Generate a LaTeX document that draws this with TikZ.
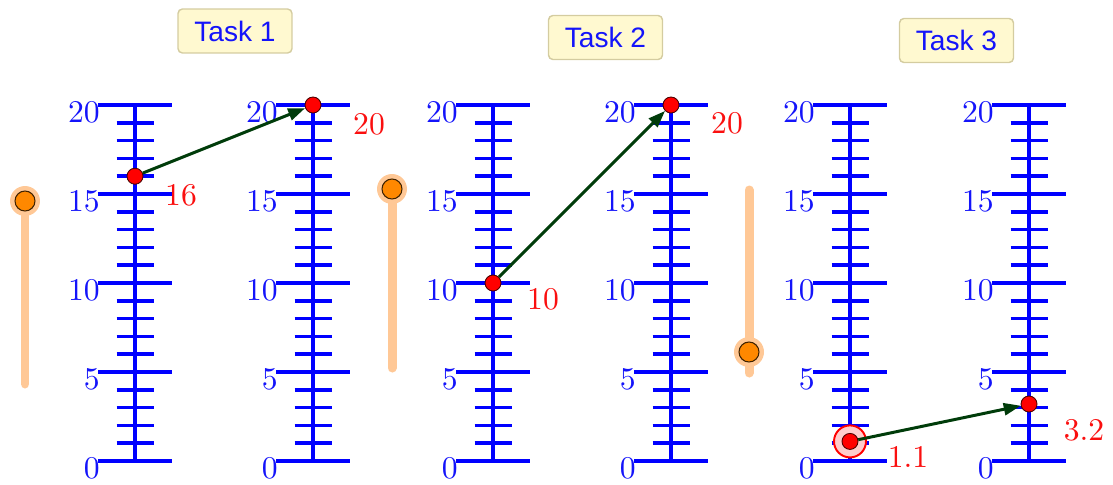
\documentclass[tikz,border=0pt]{standalone}
\usepackage{fontspec}
\newfontfamily\tasksf{Liberation Sans}
\newfontfamily\numfont{lmroman10-regular}[Extension=.otf]
\usetikzlibrary{arrows.meta}
\definecolor{nlblue}{RGB}{0,0,255}
\definecolor{numblue}{RGB}{20,20,250}
\definecolor{ptred}{RGB}{255,0,0}
\definecolor{valred}{RGB}{250,15,15}
\definecolor{vecgreen}{RGB}{0,60,10}
\definecolor{sldline}{RGB}{255,200,150}
\definecolor{sldknob}{RGB}{255,136,0}
\definecolor{taskfill}{RGB}{255,249,208}
\definecolor{taskdraw}{RGB}{212,204,160}
\tikzset{
  taskbox/.style={
    rectangle, rounded corners=2.5pt, draw=taskdraw, fill=taskfill,
    line width=0.8pt, minimum width=2.28cm, minimum height=0.88cm,
    text=numblue, font=\tasksf\fontsize{16}{18}\selectfont
  },
  axisline/.style={nlblue, line width=2.3pt},
  tickmark/.style={nlblue, line width=2pt},
  axnum/.style={
    numblue, anchor=east, inner sep=0pt,
    font=\numfont\fontsize{18}{20}\selectfont
  },
  valnum/.style={valred, inner sep=0pt, font=\numfont\fontsize{18}{20}\selectfont},
  ptdot/.style={
    circle, draw=black!70!red, fill=ptred, line width=0.5pt,
    minimum size=0.32cm, inner sep=0pt
  },
  pthalo/.style={
    circle, draw=ptred, fill=ptred!20, line width=1.1pt,
    minimum size=0.64cm, inner sep=0pt
  },
  vecarrow/.style={-{Triangle[length=0.34cm, width=0.24cm]}, vecgreen, line width=1.7pt},
  sldtrack/.style={sldline, line width=0.18cm, line cap=round},
  sldhalo/.style={circle, fill=sldline, minimum size=0.6cm, inner sep=0pt},
  sldknob/.style={
    circle, draw=black!75!sldknob, fill=sldknob, line width=0.6pt,
    minimum size=0.4cm, inner sep=0pt
  }
}

\begin{document}
\begin{tikzpicture}[x=0.02cm, y=-0.02cm]
  \useasboundingbox (0,0) rectangle (1113,484);

  % Task titles
  \node[taskbox] (task1) at (235,31)   {Task 1};
  \node[taskbox] (task2) at (605.5,37.5) {Task 2};
  \node[taskbox] (task3) at (956.5,40.5) {Task 3};

  % Sliders
  \draw[sldtrack] (25,201) -- (25,384);
  \node[sldhalo] (halo1) at (25,201) {};
  \node[sldknob] (knob1) at (25,201) {};

  \draw[sldtrack] (392,189) -- (392,368);
  \node[sldhalo] (halo2) at (392,189) {};
  \node[sldknob] (knob2) at (392,189) {};

  \draw[sldtrack] (749,190) -- (749,373);
  \node[sldhalo] (halo3) at (749,352) {};
  \node[sldknob] (knob3) at (749,352) {};

  % Number lines
  \foreach \ax in {135,313,493,671,850,1029}{
    \foreach \v in {0,...,20}
      \draw[tickmark] (\ax-18.5,{461-17.8*\v}) -- (\ax+18.5,{461-17.8*\v});
    \foreach \v in {0,5,...,20}{
      \draw[tickmark] (\ax-37,{461-17.8*\v}) -- (\ax+37,{461-17.8*\v});
      \node[axnum] (n\ax-\v) at (\ax-35,{468-17.8*\v}) {\v};
    }
    \draw[axisline] (\ax,105) -- (\ax,461);
  }

  % Task 1
  \node[ptdot] (p16) at (135,176.2) {};
  \node[ptdot] (p20a) at (313,105) {};
  \draw[vecarrow] (p16) -- (p20a);
  \node[valnum] (v16) at (181,195) {16};
  \node[valnum] (v20a) at (369,124) {20};

  % Task 2
  \node[ptdot] (p10) at (493,283) {};
  \node[ptdot] (p20b) at (671,105) {};
  \draw[vecarrow] (p10) -- (p20b);
  \node[valnum] (v10) at (543,299) {10};
  \node[valnum] (v20b) at (727,123) {20};

  % Task 3
  \node[pthalo] (h11) at (850,441.4) {};
  \node[ptdot] (p11) at (850,441.4) {};
  \node[ptdot] (p32) at (1029,404) {};
  \draw[vecarrow] (p11) -- (p32);
  \node[valnum] (v11) at (908,457) {1.1};
  \node[valnum] (v32) at (1084,430) {3.2};
\end{tikzpicture}
\end{document}
